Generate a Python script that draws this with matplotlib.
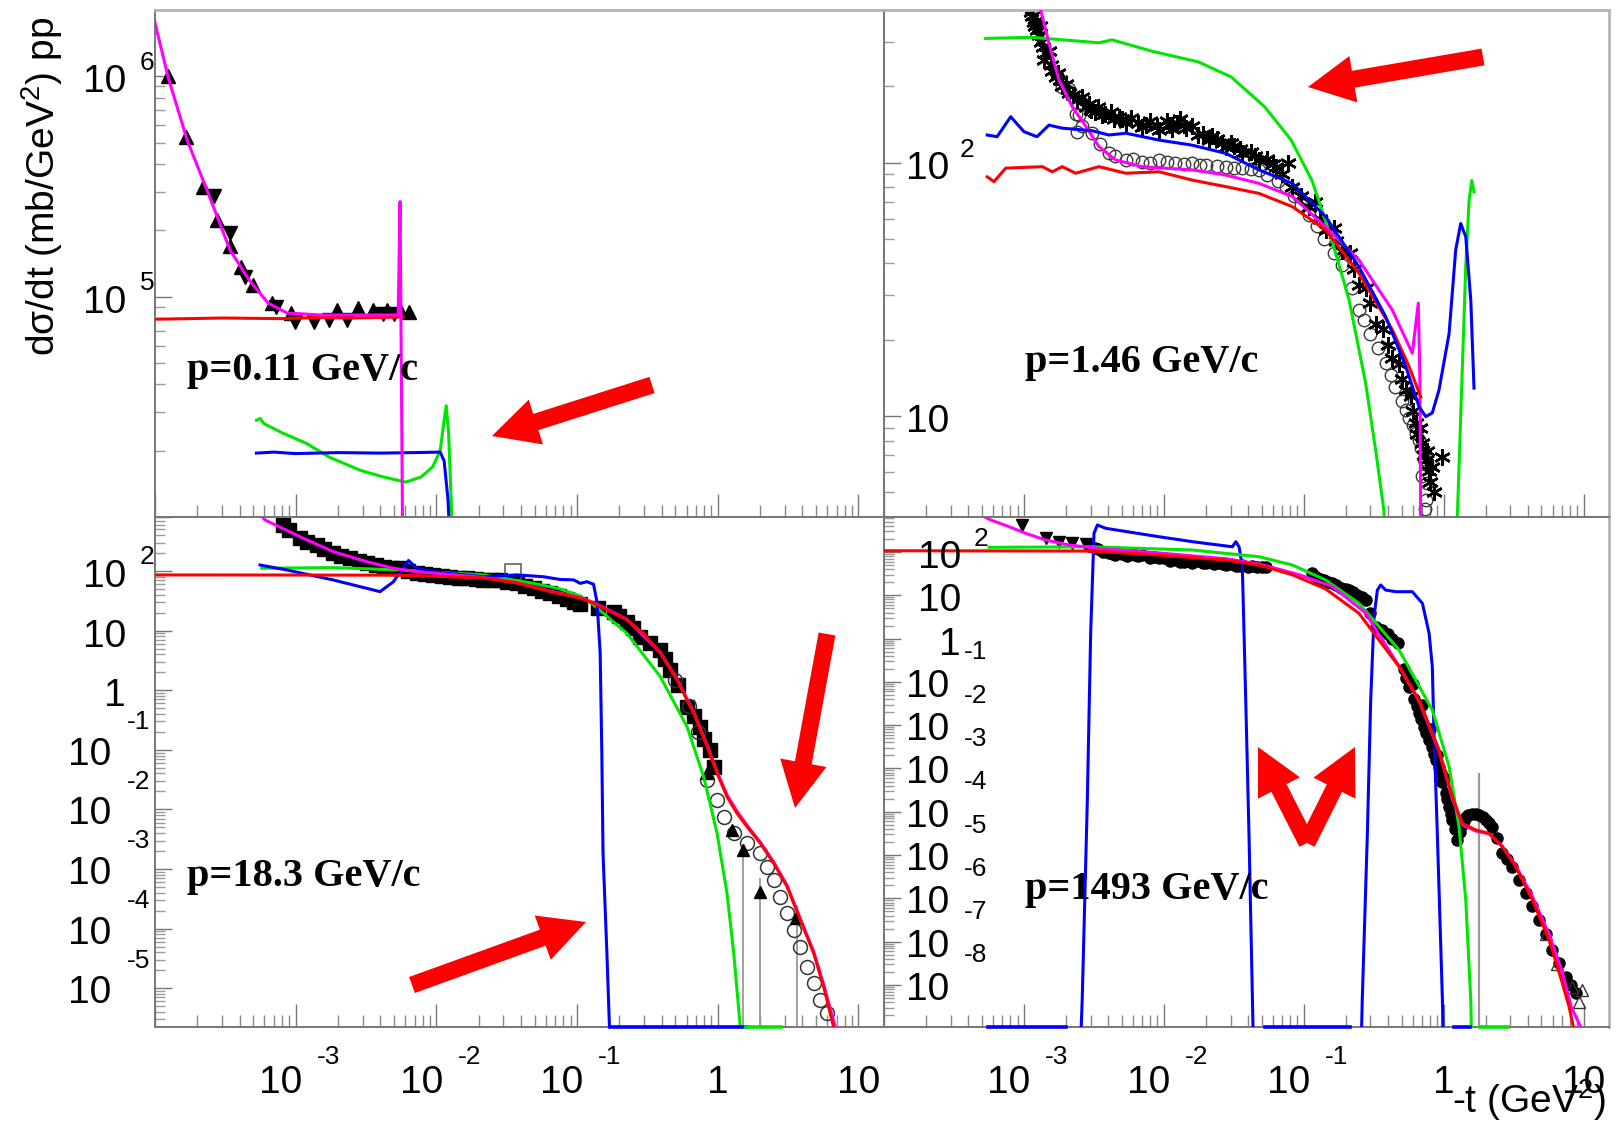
#!/usr/bin/env python3
# pp elastic d(sigma)/dt at four beam momenta: data points vs four model curves

import numpy as np
import matplotlib
matplotlib.use("Agg")
import matplotlib.pyplot as plt
from matplotlib.patches import FancyArrow
from matplotlib.ticker import LogLocator, NullFormatter
from matplotlib.transforms import IdentityTransform

W, H = 1619, 1126
XLIM = (1e-4, 15.2)

MAGENTA = "#ff00ff"
RED = "#ff0000"
GREEN = "#00e600"
BLUE = "#0000ff"

# ---------------- p = 0.11 GeV/c ----------------
tl_magenta_t = [1.0e-4, 1.24e-4, 1.70e-4, 2.34e-4, 3.41e-4, 4.67e-4, 6.37e-4, 8.69e-4, 1.5e-3, 3.0e-3, 5.35e-3, 5.52e-3, 5.9e-3]
tl_magenta_y = [1.75e6, 9.9e5, 5.1e5, 3.05e5, 1.63e5, 1.19e5, 9.35e4, 8.43e4, 8.26e4, 8.26e4, 8.26e4, 2.7e5, 1.0e3]
tl_red_t = [1.0e-4, 3.0e-4, 8.0e-4, 1.5e-3, 2.5e-3, 4.0e-3, 5.8e-3]
tl_red_y = [7.9e4, 8.0e4, 7.95e4, 8.05e4, 8.0e4, 8.05e4, 8.1e4]
tl_green_t = [5.26e-4, 5.6e-4, 5.96e-4, 8.13e-4, 1.19e-3, 1.73e-3, 2.87e-3, 4.19e-3, 6.07e-3, 7.80e-3, 9.42e-3, 1.064e-2, 1.135e-2, 1.175e-2, 1.222e-2, 1.288e-2, 1.35e-2]
tl_green_y = [2.75e4, 2.8e4, 2.65e4, 2.4e4, 2.16e4, 1.87e4, 1.63e4, 1.52e4, 1.44e4, 1.52e4, 1.69e4, 2.0e4, 2.75e4, 3.2e4, 2.4e4, 1.0e4, 3.0e3]
tl_blue_t = [5.26e-4, 7.0e-4, 1.0e-3, 2.0e-3, 4.0e-3, 7.0e-3, 1.064e-2, 1.135e-2, 1.21e-2, 1.29e-2]
tl_blue_y = [1.95e4, 1.97e4, 1.94e4, 1.96e4, 1.95e4, 1.96e4, 1.97e4, 1.8e4, 1.2e4, 5.0e3]
tl_up = [(1.245e-4, 1.0e6), (1.67e-4, 5.3e5), (2.19e-4, 3.15e5), (2.78e-4, 2.23e5), (3.40e-4, 1.69e5),
         (4.09e-4, 1.37e5), (4.94e-4, 1.13e5), (6.76e-4, 9.35e4), (9.27e-4, 8.4e4), (1.96e-3, 8.7e4),
         (2.77e-3, 8.9e4), (3.56e-3, 8.7e4), (4.43e-3, 8.7e4), (5.52e-3, 8.7e4), (6.37e-3, 8.5e4)]
tl_down = [(2.64e-4, 2.85e5), (3.40e-4, 1.95e5), (4.36e-4, 1.23e5), (7.19e-4, 9.0e4), (9.84e-4, 7.7e4),
           (1.35e-3, 7.7e4), (1.73e-3, 7.8e4), (2.30e-3, 7.8e4), (4.16e-3, 8.3e4), (5.02e-3, 8.3e4)]

# ---------------- p = 1.46 GeV/c ----------------
tr_green_t = [5.33e-4, 1.14e-3, 3.44e-3, 4.27e-3, 8.24e-3, 1.754e-2, 3.02e-2, 5.26e-2, 8.11e-2, 0.1146, 0.159, 0.211,
              0.277, 0.327, 0.375, 0.40, 1.22, 1.253, 1.361, 1.439, 1.52, 1.589, 1.648]
tr_green_y = [309, 312, 297, 305, 275, 250, 218, 166, 123, 85, 49.5, 28.7, 13.5, 7.3, 4.2, 1.0, 1.0, 4.0, 15.7, 39, 71, 85, 76.6]
tr_blue_t = [5.47e-4, 6.43e-4, 8.05e-4, 1.0e-3, 1.24e-3, 1.51e-3, 1.87e-3, 3.07e-3, 4.05e-3, 5.35e-3, 9.25e-3, 1.59e-2,
             2.77e-2, 4.79e-2, 8.3e-2, 0.1435, 0.248, 0.385, 0.536, 0.667, 0.745, 0.830, 0.927, 1.094, 1.219, 1.324,
             1.439, 1.563, 1.648]
tr_blue_y = [128.5, 126.5, 151.7, 132.5, 126.5, 140.6, 136.8, 133.6, 128.5, 130.6, 122.7, 117.2, 108.8, 93.6, 82.8,
             61.2, 38.8, 24.7, 15.7, 10.9, 9.95, 10.3, 12.7, 21.2, 45.2, 57.5, 51, 28.7, 12.9]
tr_red_t = [5.47e-4, 6.11e-4, 7.41e-4, 1.355e-3, 1.596e-3, 1.88e-3, 2.34e-3, 3.44e-3, 5.35e-3, 9.25e-3, 1.60e-2,
            2.77e-2, 4.79e-2, 8.30e-2, 0.1435, 0.248, 0.430, 0.566, 0.686]
tr_red_y = [87.9, 84.1, 95.1, 96.4, 92.0, 96.4, 90.8, 96.4, 90.8, 92.0, 85.3, 80.4, 75.6, 67, 54.2, 36.6, 21.9, 15.7, 11.9]
tr_magenta_t = [1.25e-3, 1.318e-3, 1.51e-3, 1.78e-3, 2.22e-3, 2.77e-3, 3.44e-3, 4.53e-3, 7.01e-3, 1.60e-2, 2.77e-2,
                4.79e-2, 8.30e-2, 0.1435, 0.248, 0.430, 0.597, 0.659, 0.676, 0.700]
tr_magenta_y = [480, 400, 296, 212, 166, 139, 115.6, 102.4, 96.4, 93.6, 89.3, 82.8, 73.5, 55.8, 41.3, 26.2, 17.7,
                27.9, 14.3, 0.5]
tr_stars = [(1.12e-3, 394), (1.18e-3, 360), (1.25e-3, 334), (1.33e-3, 300), (1.43e-3, 270), (1.55e-3, 243),
            (1.69e-3, 218), (1.88e-3, 200), (2.10e-3, 188), (2.40e-3, 176), (2.77e-3, 166), (3.20e-3, 159),
            (3.63e-3, 154), (4.40e-3, 148), (5.35e-3, 143), (7.00e-3, 138), (9.25e-3, 135), (1.15e-2, 136),
            (1.44e-2, 137), (1.75e-2, 128), (2.10e-2, 123), (2.80e-2, 115), (3.64e-2, 109), (4.80e-2, 102),
            (6.31e-2, 96), (7.73e-2, 99.8), (8.30e-2, 80), (0.109, 67), (0.1435, 54), (0.189, 45), (0.248, 33),
            (0.327, 23), (0.430, 17), (0.536, 12.7), (0.632, 9.4), (0.705, 7.8), (0.745, 6.7), (0.787, 6.1),
            (0.98, 6.9), (1.30e-3, 345), (1.50e-3, 275), (1.75e-3, 225), (2.0e-3, 205), (2.6e-3, 182),
            (3.4e-3, 165), (4.2e-3, 158), (5.8e-3, 150), (8.0e-3, 146), (1.05e-2, 146), (1.30e-2, 148),
            (1.6e-2, 140), (2.4e-2, 124), (3.2e-2, 116), (4.2e-2, 110), (5.5e-2, 103), (0.12, 70), (0.165, 55),
            (0.215, 44), (0.28, 32), (0.37, 22), (0.48, 16), (0.58, 12), (0.68, 9.0), (0.76, 7.3), (0.82, 6.3),
            (1.15e-3, 378), (1.21e-3, 347), (1.29e-3, 318), (1.38e-3, 285), (1.4e-3, 255), (1.6e-3, 230),
            (1.8e-3, 212), (2.25e-3, 185), (2.9e-3, 170), (3.8e-3, 156), (5.0e-3, 148), (6.5e-3, 143),
            (9.0e-3, 140), (1.1e-2, 141), (1.25e-2, 143), (1.4e-2, 141), (1.9e-2, 130), (2.6e-2, 120),
            (3.5e-2, 113), (4.5e-2, 106), (6.0e-2, 99), (7.0e-2, 90), (0.095, 74), (0.13, 60), (0.17, 49),
            (0.23, 38), (0.30, 28), (0.40, 19), (0.50, 14), (0.60, 10.5), (0.65, 8.5), (0.72, 7.0), (0.80, 5.5),
            (0.85, 5.0), (3.0e-3, 162), (4.8e-3, 152), (7.5e-3, 141), (2.2e-2, 127), (3.0e-2, 119)]
tr_circles = [(1.88e-3, 199), (2.10e-3, 196), (2.34e-3, 156), (2.41e-3, 132), (2.48e-3, 154), (3.08e-3, 130.6),
              (4.05e-3, 108.8), (5.35e-3, 102.4), (7.0e-3, 101), (9.25e-3, 102.4), (1.2e-2, 100), (1.60e-2, 99.3),
              (2.0e-2, 98), (2.77e-2, 96.4), (3.6e-2, 95), (4.79e-2, 93.5), (6.5e-2, 85), (8.5e-2, 74), (0.109, 62),
              (0.14, 50), (0.189, 39.5), (0.248, 26.2), (0.30, 21), (0.385, 16.2), (0.45, 13), (0.536, 10.6),
              (0.60, 9.2), (0.667, 8.05), (0.72, 6.8), (0.745, 4.67), (0.766, 5.43),
              (2.6e-3, 140), (3.5e-3, 118), (4.5e-3, 106), (6.0e-3, 103), (8.0e-3, 100), (1.05e-2, 101),
              (1.4e-2, 99), (1.8e-2, 98), (2.4e-2, 97), (3.2e-2, 95), (4.2e-2, 94), (5.5e-2, 89), (7.5e-2, 80),
              (0.095, 68), (0.125, 56), (0.165, 44), (0.22, 32), (0.27, 24), (0.34, 18.5), (0.42, 14.5),
              (0.50, 11.5), (0.57, 9.8), (0.63, 8.6), (0.69, 7.5), (0.70, 5.8), (0.73, 4.3)]

# ---------------- p = 18.3 GeV/c ----------------
bl_red_t = [1.0e-4, 2.09e-4, 1.07e-3, 5.53e-3, 2.15e-2, 3.74e-2, 6.44e-2, 0.1054, 0.131, 0.226, 0.297, 0.391, 0.513,
            0.675, 0.840, 0.989, 1.164, 1.371, 1.615, 2.01, 2.50, 3.11, 3.87, 4.81, 5.66, 6.67, 7.2]
bl_red_y = [85.8, 85.8, 85.5, 85.0, 76.4, 63, 45, 35.2, 28.7, 15.1, 9.0, 4.16, 1.48, 0.409, 0.113, 0.0403, 0.0163,
            8.6e-3, 5.13e-3, 2.69e-3, 1.25e-3, 5.05e-4, 1.39e-4, 3.85e-5, 1.06e-5, 2.2e-6, 1.0e-6]
bl_magenta_t = [5.6e-4, 6.05e-4, 1.07e-3, 1.85e-3, 3.21e-3, 4.95e-3, 7.26e-3, 2.15e-2, 3.74e-2, 6.44e-2, 0.1054,
                0.131, 0.226, 0.391, 0.513, 0.675, 0.840, 0.989, 1.164, 1.371, 1.615, 2.01, 2.50, 3.11, 3.87, 4.81,
                5.66, 6.9]
bl_magenta_y = [900, 718, 376, 211, 143, 111, 97.3, 78, 64, 46, 36, 29.5, 15.5, 4.3, 1.55, 0.43, 0.12, 0.043, 0.0175,
                9.3e-3, 5.4e-3, 2.8e-3, 1.3e-3, 5.3e-4, 1.45e-4, 4.1e-5, 1.15e-5, 2.1e-6]
bl_green_t = [5.74e-4, 1.85e-3, 5.53e-3, 2.16e-2, 4.91e-2, 0.0758, 0.1054, 0.131, 0.226, 0.391, 0.605, 0.794, 0.989,
              1.164, 1.30, 1.49]
bl_green_y = [111, 114, 104, 85.8, 62, 50, 38, 27, 9.0, 1.68, 0.244, 0.0354, 3.97e-3, 3.9e-4, 3.85e-5, 1.0e-6]
bl_blue_t = [5.58e-4, 8.65e-4, 1.85e-3, 3.98e-3, 4.95e-3, 6.34e-3, 7.26e-3, 9.53e-3, 2.16e-2, 3.74e-2, 5.78e-2,
             0.0758, 0.0944, 0.1054, 0.1175, 0.131, 0.1387, 0.146, 0.150, 0.153, 0.163, 0.172]
bl_blue_y = [126, 104, 70.6, 45, 66, 150, 111, 97, 80, 86, 80, 72, 71, 62, 66, 60, 30, 4.2, 0.0873, 1.83e-3,
             3.85e-5, 1.0e-6]
bl_blue_zero = [(0.172, 1.62)]
bl_green_zero = [(1.6, 2.8)]
bl_squares = [(8.19e-4, 591), (9.0e-4, 480), (1.07e-3, 354), (1.2e-3, 310), (1.41e-3, 273), (1.6e-3, 235),
              (1.85e-3, 198), (2.1e-3, 180), (2.44e-3, 163), (2.8e-3, 148), (3.21e-3, 135), (3.7e-3, 126),
              (4.21e-3, 118), (4.8e-3, 114), (5.53e-3, 111), (6.3e-3, 100), (7.26e-3, 91.5), (8.3e-3, 88),
              (9.53e-3, 85.8), (1.1e-2, 82), (1.25e-2, 80.2), (1.45e-2, 77), (1.65e-2, 75.3), (1.9e-2, 72),
              (2.16e-2, 70.6), (2.5e-2, 70), (2.84e-2, 70.6), (3.2e-2, 66), (3.74e-2, 62.2), (4.3e-2, 56),
              (4.91e-2, 51.3), (5.6e-2, 47), (6.44e-2, 42.3), (7.4e-2, 38), (8.47e-2, 34), (0.095, 30),
              (0.1054, 28), (0.14, 24), (0.182, 20.7), (0.20, 17.5), (0.226, 14.1), (0.25, 11), (0.282, 7.9),
              (0.33, 6.2), (0.391, 4.72), (0.42, 3.4), (0.460, 2.18), (0.52, 1.2), (0.605, 0.528), (0.68, 0.37),
              (0.751, 0.244), (0.80, 0.15), (0.885, 0.0993), (0.935, 0.052)]
bl_circles = [(0.50, 1.5), (0.62, 0.55), (0.72, 0.2), (0.840, 0.0311), (0.989, 0.0144), (1.10, 7.55e-3),
              (1.30, 3.97e-3), (1.615, 2.7e-3), (2.01, 1.83e-3), (2.24, 1.09e-3), (2.50, 6.53e-4), (2.79, 3.43e-4),
              (3.11, 1.81e-4), (3.47, 9.5e-5), (3.87, 4.97e-5), (4.31, 2.3e-5), (4.81, 1.21e-5), (5.37, 6.3e-6),
              (5.98, 3.8e-6)]
bl_triangles = [(0.840, 0.0403), (1.26, 4.5e-3), (1.51, 2.08e-3), (2.01, 4.16e-4), (3.6, 1.48e-4)]
bl_open_square = [(3.53e-2, 97.3)]
bl_err_t = [1.51, 2.01, 3.64]
bl_err_hi = [2.6e-3, 7.0e-4, 2.5e-4]

# ---------------- p = 1493 GeV/c ----------------
br_red_t = [1.0e-4, 3.07e-3, 9.25e-3, 2.77e-2, 4.79e-2, 8.24e-2, 0.1435, 0.248, 0.480, 0.667, 0.927, 1.153, 1.361,
            1.695, 2.11, 2.63, 3.27, 4.31, 5.67, 7.06, 7.87, 8.5]
br_red_y = [107, 105, 85, 65.3, 50.1, 30, 14, 3.84, 0.225, 0.0382, 2.67e-3, 2.23e-4, 5.42e-5, 3.8e-5, 3.18e-5,
            1.56e-5, 5.4e-6, 9.2e-7, 1.09e-7, 1.09e-8, 3.2e-9, 1.0e-9]
br_magenta_t = [5.0e-4, 5.79e-4, 7.84e-4, 1.03e-3, 1.43e-3, 2.10e-3, 3.5e-3, 9.25e-3, 2.77e-2, 4.79e-2, 9.25e-2,
                0.160, 0.277, 0.48, 0.667, 0.927, 1.153, 1.361, 1.695, 2.11, 2.63, 3.27, 4.31, 5.67, 7.06, 8.2, 9.8]
br_magenta_y = [700, 548, 384, 270, 189, 145, 120, 95, 70, 53, 30, 16, 3.9, 0.23, 0.036, 2.5e-3, 2.0e-4, 5.0e-5,
                3.6e-5, 3.1e-5, 1.6e-5, 5.8e-6, 1.1e-6, 1.5e-7, 1.9e-8, 3.0e-9, 9.0e-10]
br_green_t = [5.64e-4, 3.07e-3, 1.60e-2, 4.79e-2, 8.30e-2, 0.1435, 0.248, 0.48, 0.830, 1.094, 1.288, 1.439, 1.563, 1.60]
br_green_y = [128, 132, 111, 77.8, 50, 22.5, 6.53, 0.546, 0.0224, 1.1e-3, 4.5e-5, 9.2e-7, 4.5e-9, 1.0e-10]
br_blue_a_t = [2.5e-3, 2.61e-3, 2.84e-3, 3.0e-3, 3.17e-3, 3.35e-3, 3.85e-3, 9.25e-3, 1.60e-2, 3.09e-2, 3.27e-2,
               3.45e-2, 3.64e-2, 3.85e-2, 4.06e-2, 4.30e-2, 4.4e-2]
br_blue_a_y = [1e-10, 4.5e-9, 1.87e-4, 1.32, 270, 421, 352, 225, 173, 132, 173, 132, 45.8, 0.038, 3.2e-5, 4.5e-9, 1e-10]
br_blue_b_t = [0.255, 0.262, 0.285, 0.301, 0.318, 0.336, 0.355, 0.385, 0.455, 0.597, 0.705, 0.787, 0.830, 0.853,
               0.901, 0.98, 1.0]
br_blue_b_y = [1e-10, 4.5e-9, 3.2e-5, 0.038, 3.2, 13.2, 17.3, 13.2, 12.1, 12.1, 6.53, 1.32, 0.225, 6.5e-3, 3.2e-5,
               4.5e-9, 1e-10]
br_blue_zero = [(5.5e-4, 2.0e-3), (0.053, 0.214), (1.19, 1.55)]
br_green_zero = [(1.82, 2.9)]
br_down = [(9.75e-4, 421), (1.43e-3, 207), (1.78e-3, 173), (2.22e-3, 159), (2.77e-3, 150)]
br_band = [(2.9e-3, 135), (3.4e-3, 115), (3.7e-3, 100), (4.05e-3, 95), (4.5e-3, 85), (5.0e-3, 90), (5.5e-3, 80),
           (6.0e-3, 88), (6.5e-3, 80), (7.0e-3, 85), (8.0e-3, 72), (8.5e-3, 78), (1.0e-2, 72), (1.1e-2, 62),
           (1.22e-2, 65), (1.3e-2, 58), (1.45e-2, 63), (1.6e-2, 57), (1.75e-2, 62), (1.9e-2, 55), (2.1e-2, 60),
           (2.3e-2, 53), (2.5e-2, 57), (2.8e-2, 50), (3.0e-2, 53), (3.3e-2, 47), (3.64e-2, 50), (4.0e-2, 44),
           (4.3e-2, 48), (5.0e-2, 46), (5.35e-2, 45), (0.115, 32.2), (0.122, 26.9), (0.14, 22), (0.160, 18.9),
           (0.185, 15), (0.211, 13.2), (0.24, 10), (0.277, 7.8), (0.33, 1.9), (0.40, 1.3), (0.47, 0.8),
           (0.566, 0.0775), (0.60, 0.09), (0.61, 0.04), (0.667, 0.0188), (0.70, 0.03), (0.72, 9e-3),
           (0.787, 4.5e-3), (0.80, 8e-3), (0.85, 2.2e-3), (0.90, 2e-3), (0.927, 1.1e-3), (0.98, 5e-4),
           (1.0, 6e-4), (1.035, 2.67e-4), (1.09, 1.3e-4), (1.1, 2e-4), (1.153, 6.5e-5), (1.253, 2.2e-5),
           (1.35, 5e-5), (1.439, 7.7e-5), (1.6, 9e-5), (1.79, 8.4e-5), (2.0, 6.5e-5), (2.23, 4.5e-5),
           (2.63, 1.1e-5), (3.10, 5.4e-6), (3.86, 1.31e-6), (4.81, 3.2e-7), (5.98, 6.4e-8), (7.46, 1.56e-8),
           (8.79, 6.4e-9),
           (0.13, 24), (0.15, 20.5), (0.17, 17), (0.20, 14), (0.225, 12), (0.26, 9), (0.30, 4), (0.36, 1.6),
           (0.43, 1.0), (0.52, 0.2), (0.54, 0.12), (0.64, 0.028), (0.69, 0.014), (0.75, 6.5e-3), (0.82, 3.2e-3),
           (0.88, 1.6e-3), (0.95, 8e-4), (1.06, 2e-4), (1.12, 9e-5), (1.2, 4e-5), (1.3, 3.5e-5), (1.4, 6e-5),
           (1.5, 8.5e-5), (1.7, 9e-5), (1.9, 7.5e-5), (2.1, 5.5e-5), (2.4, 2.5e-5), (2.85, 8e-6), (3.45, 2.7e-6),
           (4.3, 6.5e-7), (5.4, 1.5e-7), (6.7, 3.2e-8), (8.1, 1.0e-8),
           (3.2e-3, 125), (4.3e-3, 92), (6.2e-3, 84), (9.2e-3, 74), (1.4e-2, 60), (2.0e-2, 57), (2.65e-2, 54),
           (3.5e-2, 48), (4.6e-2, 46)]
br_open_tri = [(5.4, 1.5e-7), (6.5, 3.0e-8), (8.3, 9.0e-9), (9.3, 4.0e-9), (9.8, 7.7e-9)]
br_err_t = [1.79]
br_err_hi = [7.8e-4]

# red arrows: tail x, tail y, tip x, tip y (image pixels, y down)
ARROWS = [(652, 385, 492, 436), (1483, 57, 1308, 87), (412, 985, 586, 922),
          (827, 634, 795, 808), (1307, 843, 1258, 747), (1307, 843, 1355, 747)]

PANEL_LABELS = [("p=0.11 GeV/c", 187, 380), ("p=1.46 GeV/c", 1025, 372),
                ("p=18.3 GeV/c", 187, 886), ("p=1493 GeV/c", 1025, 899)]

plt.rcParams["font.family"] = ["Liberation Sans", "DejaVu Sans"]
plt.rcParams["mathtext.fontset"] = "custom"
plt.rcParams["mathtext.rm"] = "Liberation Sans"
plt.rcParams["mathtext.it"] = "Liberation Sans:italic"
plt.rcParams["mathtext.bf"] = "Liberation Sans:bold"

BIG = 28
SMALL = 19

# per-panel placement of the y labels (pixel offsets from the axis line)
YSTYLE = {
    "left": dict(dx=-29, ha="right", edx=-8, edy=16, ndx=-44, nha="right", nedx=-16, nedy=30),
    "tr": dict(dx=22, ha="left", edx=83, edy=15, ndx=22, nha="left", nedx=92, nedy=32),
    "br": dict(dx=77, ha="right", edx=97, edy=15, ndx=22, nha="left", nedx=92, nedy=32),
}


def make_axes(fig, left, top, right, bottom, ylim, outer_top=False, outer_right=False):
    ax = fig.add_axes([left / W, 1 - bottom / H, (right - left) / W, (bottom - top) / H])
    ax.set_xscale("log")
    ax.set_yscale("log")
    ax.set_xlim(*XLIM)
    ax.set_ylim(*ylim)
    for axis in (ax.xaxis, ax.yaxis):
        axis.set_major_locator(LogLocator(base=10, numticks=60))
        axis.set_minor_locator(LogLocator(base=10, subs=np.arange(2, 10), numticks=60))
        axis.set_major_formatter(NullFormatter())
        axis.set_minor_formatter(NullFormatter())
    ax.tick_params(axis="x", which="major", direction="in", length=16.5, width=1.0, color="#777777",
                   top=False, bottom=True)
    ax.tick_params(axis="x", which="minor", direction="in", length=8.5, width=1.0, color="#888888",
                   top=False, bottom=True)
    ax.tick_params(axis="y", which="major", direction="in", length=12, width=1.0, color="#777777",
                   left=True, right=False)
    ax.tick_params(axis="y", which="minor", direction="in", length=7, width=1.0, color="#9a9a9a",
                   left=True, right=False)
    for s in ax.spines.values():
        s.set_color("#777777")
        s.set_linewidth(1.4)
    if outer_top:
        ax.spines["top"].set_color("#b5b5b5")
        ax.spines["top"].set_linewidth(2.0)
    if outer_right:
        ax.spines["right"].set_color("#b5b5b5")
        ax.spines["right"].set_linewidth(2.0)
    ax.patch.set_alpha(0)
    return ax


def curve(ax, t, y, color):
    ax.plot(t, y, color=color, lw=2.2, zorder=3, solid_joinstyle="round")


def zero_runs(ax, runs, color):
    y0 = ax.get_ylim()[0]
    for a, b in runs:
        ax.plot([a, b], [y0, y0], color=color, lw=2.6, zorder=4, clip_on=False)


def points(ax, pts, **kw):
    t, y = zip(*pts)
    ax.plot(t, y, ls="none", zorder=2.5, **kw)


def y_labels(ax, st):
    lo, hi = ax.get_ylim()
    tr = ax.get_yaxis_transform()
    for k in range(-12, 8):
        v = 10.0 ** k
        if not (lo * 1.05 < v < hi):
            continue
        if k >= 0:
            base = "1" if k == 0 else "10"
            ax.annotate(base, (0, v), xycoords=tr, xytext=(st["dx"], -16), textcoords="offset pixels",
                        ha=st["ha"], va="baseline", fontsize=BIG, annotation_clip=False)
            if k >= 2:
                ax.annotate(str(k), (0, v), xycoords=tr, xytext=(st["edx"], st["edy"] - 9.5),
                            textcoords="offset pixels", ha="center", va="baseline", fontsize=SMALL,
                            annotation_clip=False)
        else:
            ax.annotate("10", (0, v), xycoords=tr, xytext=(st["ndx"], -15), textcoords="offset pixels",
                        ha=st["nha"], va="baseline", fontsize=BIG, annotation_clip=False)
            ax.annotate(str(k), (0, v), xycoords=tr, xytext=(st["nedx"], st["nedy"] - 9.5),
                        textcoords="offset pixels", ha="center", va="baseline", fontsize=SMALL,
                        annotation_clip=False)


def x_labels(ax, last_dx=0):
    tr = ax.get_xaxis_transform()
    for k in (-3, -2, -1, 0, 1):
        v = 10.0 ** k
        if k < 0:
            ax.annotate("10", (v, 0), xycoords=tr, xytext=(-15, -66), textcoords="offset pixels",
                        ha="center", va="baseline", fontsize=BIG, annotation_clip=False)
            ax.annotate(str(k), (v, 0), xycoords=tr, xytext=(33, -37.5), textcoords="offset pixels",
                        ha="center", va="baseline", fontsize=SMALL, annotation_clip=False)
        else:
            dx = last_dx if k == 1 else 0
            ax.annotate("1" if k == 0 else "10", (v, 0), xycoords=tr, xytext=(dx, -66),
                        textcoords="offset pixels", ha="center", va="baseline", fontsize=BIG,
                        annotation_clip=False)


def main():
    fig = plt.figure(figsize=(W / 100, H / 100), dpi=100)
    fig.patch.set_facecolor("white")

    ax_tl = make_axes(fig, 155, 10, 884, 517, (1e4, 2e6), outer_top=True)
    ax_tr = make_axes(fig, 884, 10, 1609, 517, (4, 400), outer_top=True, outer_right=True)
    ax_bl = make_axes(fig, 155, 517, 884, 1027, (2.23e-6, 805))
    ax_br = make_axes(fig, 884, 517, 1609, 1027, (1.07e-9, 643), outer_right=True)

    # p = 0.11
    points(ax_tl, tl_up, marker="^", ms=10.5, color="black")
    points(ax_tl, tl_down, marker="v", ms=10.5, color="black")
    curve(ax_tl, tl_red_t, tl_red_y, RED)
    curve(ax_tl, tl_green_t, tl_green_y, GREEN)
    curve(ax_tl, tl_blue_t, tl_blue_y, BLUE)
    curve(ax_tl, tl_magenta_t, tl_magenta_y, MAGENTA)

    # p = 1.46
    points(ax_tr, tr_circles, marker="o", ms=9, mfc="none", mec="#3a3a3a", mew=1.0)
    points(ax_tr, tr_stars, marker=(6, 2, 0), ms=12, color="black", mew=1.8)
    curve(ax_tr, tr_green_t, tr_green_y, GREEN)
    curve(ax_tr, tr_magenta_t, tr_magenta_y, MAGENTA)
    curve(ax_tr, tr_red_t, tr_red_y, RED)
    curve(ax_tr, tr_blue_t, tr_blue_y, BLUE)

    # p = 18.3
    lo = ax_bl.get_ylim()[0]
    ax_bl.vlines(bl_err_t, lo * 0.5, bl_err_hi, color="#999999", lw=1.3, zorder=2)
    points(ax_bl, bl_squares, marker="s", ms=10, color="black")
    points(ax_bl, bl_circles, marker="o", ms=10, mfc="none", mec="#333333", mew=1.1)
    points(ax_bl, bl_triangles, marker="^", ms=9, color="black")
    points(ax_bl, bl_open_square, marker="s", ms=12, mfc="none", mec="#555555", mew=1.1)
    curve(ax_bl, bl_green_t, bl_green_y, GREEN)
    curve(ax_bl, bl_blue_t, bl_blue_y, BLUE)
    curve(ax_bl, bl_magenta_t, bl_magenta_y, MAGENTA)
    curve(ax_bl, bl_red_t, bl_red_y, RED)
    zero_runs(ax_bl, bl_blue_zero, BLUE)
    zero_runs(ax_bl, bl_green_zero, GREEN)

    # p = 1493
    lo = ax_br.get_ylim()[0]
    ax_br.vlines(br_err_t, lo * 0.5, br_err_hi, color="#999999", lw=1.6, zorder=2)
    points(ax_br, br_band, marker="o", ms=8, color="black")
    points(ax_br, br_down, marker="v", ms=9, color="black")
    points(ax_br, br_open_tri, marker="^", ms=9, mfc="none", mec="#333333", mew=1.0)
    curve(ax_br, br_blue_a_t, br_blue_a_y, BLUE)
    curve(ax_br, br_blue_b_t, br_blue_b_y, BLUE)
    curve(ax_br, br_green_t, br_green_y, GREEN)
    curve(ax_br, br_magenta_t, br_magenta_y, MAGENTA)
    curve(ax_br, br_red_t, br_red_y, RED)
    zero_runs(ax_br, br_blue_zero, BLUE)
    zero_runs(ax_br, br_green_zero, GREEN)

    y_labels(ax_tl, YSTYLE["left"])
    y_labels(ax_bl, YSTYLE["left"])
    y_labels(ax_tr, YSTYLE["tr"])
    y_labels(ax_br, YSTYLE["br"])
    x_labels(ax_bl)
    x_labels(ax_br)

    fig.text(42 / W, 1 - 17 / H, "dσ/dt (mb/GeV$^{2}$) pp", rotation=90, ha="center", va="top", fontsize=BIG)
    fig.text(1606 / W, 1 - 1113 / H, "-t (GeV$^{2}$)", ha="right", va="baseline", fontsize=BIG)

    for s, x, y in PANEL_LABELS:
        fig.text(x / W, 1 - y / H, s, family=["Liberation Serif", "DejaVu Serif"], weight="bold",
                 fontsize=29, ha="left", va="baseline")

    for x0, y0, x1, y1 in ARROWS:
        arr = FancyArrow(x0, H - y0, x1 - x0, y0 - y1, width=17, head_width=47, head_length=46,
                         length_includes_head=True, color=RED, lw=0, transform=IdentityTransform(), zorder=10)
        fig.add_artist(arr)

    fig.savefig("out.png", dpi=100)
    plt.close(fig)


if __name__ == "__main__":
    main()
